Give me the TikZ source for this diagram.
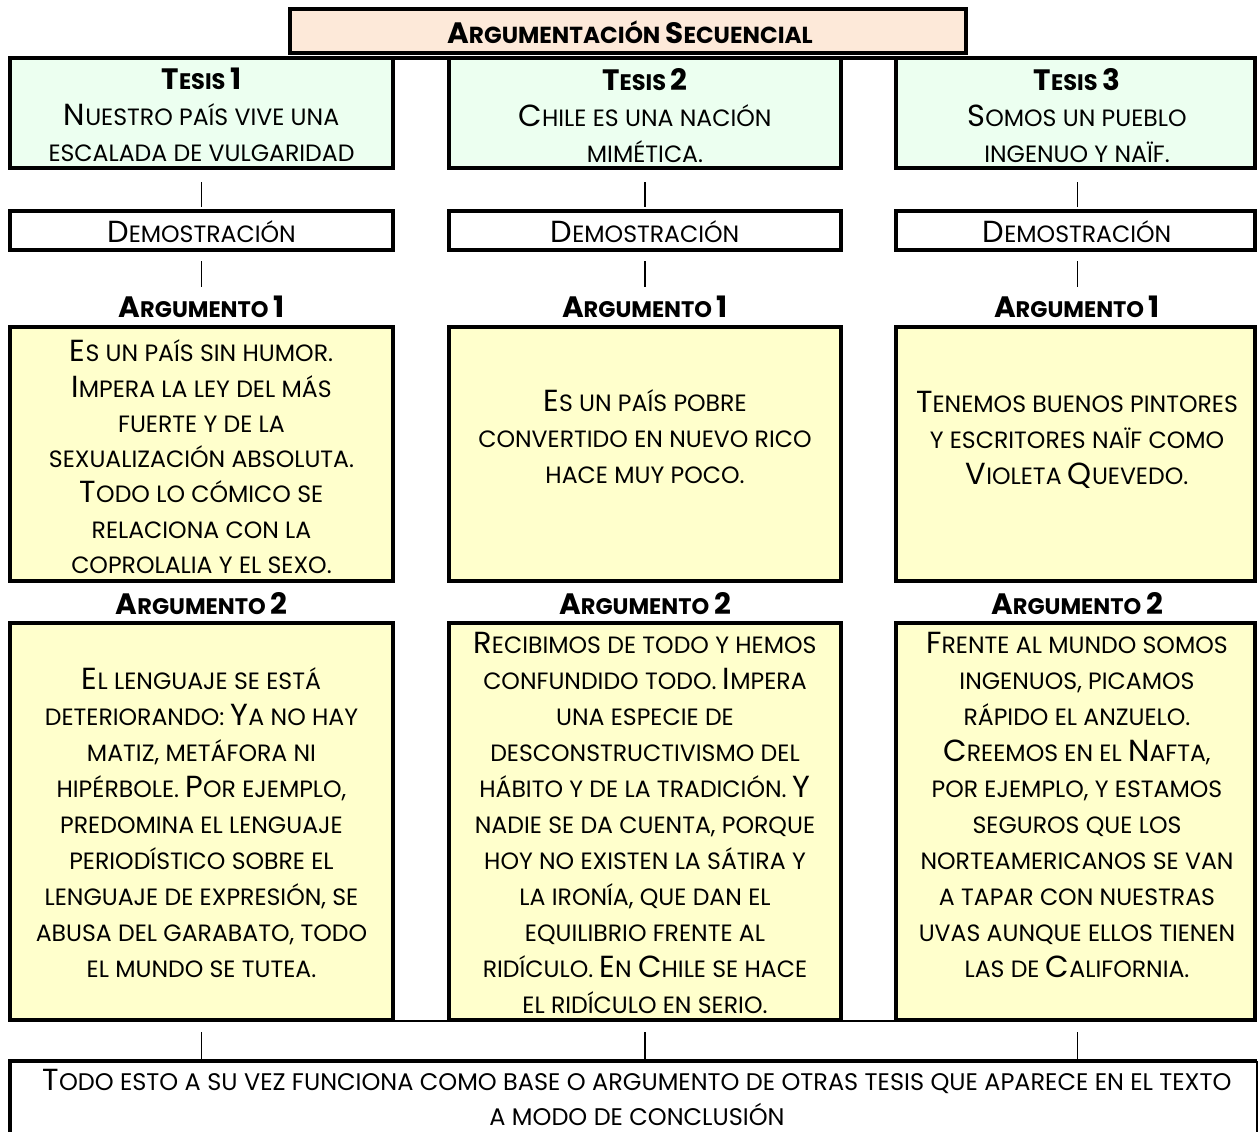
\documentclass[tikz,border=0pt]{standalone}
\usepackage{fontspec}
\setmainfont{Poppins}
\definecolor{peach}{RGB}{253,233,217}
\definecolor{mint}{RGB}{236,255,240}
\definecolor{cream}{RGB}{255,255,204}
\newcommand\smf{\fontsize{23.6}{36}\selectfont}
\newcommand\bsmf{\fontsize{22.5}{36}\selectfont\bfseries}
\DeclareRobustCommand\UC[1]{{\fontsize{30.5}{36}\selectfont #1}}
\DeclareRobustCommand\BUC[1]{{\fontsize{29.5}{36}\selectfont #1}}
\begin{document}
\begin{tikzpicture}[x=1pt,y=-1pt,
  box/.style={draw, line width=4pt, inner sep=0pt},
  txt/.style={align=center, inner sep=0pt, font=\smf, execute at begin node=\strut, execute at end node=\strut},
  lbl/.style={inner sep=0pt, font=\bsmf, execute at begin node=\strut},
  pipe/.style={line width=1.5pt}]
\useasboundingbox (0,0) rectangle (1259,1132);
\clip (0,0) rectangle (1259,1132);

% title
\node[box, fill=peach, minimum width=676pt, minimum height=43.5pt] (title) at (627.75,31.25) {};
\node[lbl, font=\fontsize{23.2}{36}\selectfont\bfseries] (titlet) at (630,36) {\BUC{A}RGUMENTACIÓN \BUC{S}ECUENCIAL};

% tesis boxes
\node[box, fill=mint, minimum width=383pt, minimum height=110pt] (t1) at (201.5,113) {};
\node[box, fill=mint, minimum width=392pt, minimum height=110pt] (t2) at (645,113) {};
\node[box, fill=mint, minimum width=359pt, minimum height=110pt] (t3) at (1075.5,113) {};
\draw[line width=4pt] ([yshift=-2pt]t1.north west) -- ([yshift=-2pt]t3.north east);

\node[txt] (t1t) at (201.5,120.5) {{\bsmf\BUC{T}ESIS \BUC{1}}\\ \UC{N}UESTRO PAÍS VIVE UNA\\ ESCALADA DE VULGARIDAD};
\node[txt] (t2t) at (645,120.5) {{\bsmf\BUC{T}ESIS \BUC{2}}\\ \UC{C}HILE ES UNA NACIÓN\\ MIMÉTICA.};
\node[txt] (t3t) at (1077,120.5) {{\bsmf\BUC{T}ESIS \BUC{3}}\\ \UC{S}OMOS UN PUEBLO\\ INGENUO Y NAÏF.};

% demostracion boxes
\node[box, minimum width=383pt, minimum height=39pt] (d1) at (201.5,230.5) {};
\node[box, minimum width=392pt, minimum height=39pt] (d2) at (645,230.5) {};
\node[box, minimum width=359pt, minimum height=39pt] (d3) at (1075.5,230.5) {};
\node[txt] (d1t) at (201.5,235.5) {\UC{D}EMOSTRACIÓN};
\node[txt] (d2t) at (645,235.5) {\UC{D}EMOSTRACIÓN};
\node[txt] (d3t) at (1077,235.5) {\UC{D}EMOSTRACIÓN};

% argumento 1
\node[lbl] (l11) at (201.5,310) {\BUC{A}RGUMENTO \BUC{1}};
\node[lbl] (l12) at (645,310) {\BUC{A}RGUMENTO \BUC{1}};
\node[lbl] (l13) at (1077,310) {\BUC{A}RGUMENTO \BUC{1}};
\node[box, fill=cream, minimum width=383pt, minimum height=254pt] (a1) at (201.5,454) {};
\node[box, fill=cream, minimum width=392pt, minimum height=254pt] (a2) at (645,454) {};
\node[box, fill=cream, minimum width=359pt, minimum height=254pt] (a3) at (1075.5,454) {};
\node[txt, font=\fontsize{23.6}{35.3}\selectfont] (a1t) at (201.5,462) {\UC{E}S UN PAÍS SIN HUMOR.\\ \UC{I}MPERA LA LEY DEL MÁS\\ FUERTE Y DE LA\\ SEXUALIZACIÓN ABSOLUTA.\\ \UC{T}ODO LO CÓMICO SE\\ RELACIONA CON LA\\ COPROLALIA Y EL SEXO.};
\node[txt] (a2t) at (645,442) {\UC{E}S UN PAÍS POBRE\\ CONVERTIDO EN NUEVO RICO\\ HACE MUY POCO.};
\node[txt] (a3t) at (1077,443) {\UC{T}ENEMOS BUENOS PINTORES\\ Y ESCRITORES NAÏF COMO\\ \UC{V}IOLETA \UC{Q}UEVEDO.};

% argumento 2
\node[lbl] (l21) at (201.5,607) {\BUC{A}RGUMENTO \BUC{2}};
\node[lbl] (l22) at (645,607) {\BUC{A}RGUMENTO \BUC{2}};
\node[lbl] (l23) at (1077,607) {\BUC{A}RGUMENTO \BUC{2}};
\node[box, fill=cream, minimum width=383pt, minimum height=397pt] (b1) at (201.5,821.5) {};
\node[box, fill=cream, minimum width=392pt, minimum height=397pt] (b2) at (645,821.5) {};
\node[box, fill=cream, minimum width=359pt, minimum height=397pt] (b3) at (1075.5,821.5) {};
\draw[line width=1.5pt] ([yshift=1pt]b1.south) -- ([yshift=1pt]b3.south);
\node[txt] (b1t) at (201.5,828) {\UC{E}L LENGUAJE SE ESTÁ\\ DETERIORANDO: \UC{Y}A NO HAY\\ MATIZ, METÁFORA NI\\ HIPÉRBOLE. \UC{P}OR EJEMPLO,\\ PREDOMINA EL LENGUAJE\\ PERIODÍSTICO SOBRE EL\\ LENGUAJE DE EXPRESIÓN, SE\\ ABUSA DEL GARABATO, TODO\\ EL MUNDO SE TUTEA.};
\node[txt] (b2t) at (645,828) {\UC{R}ECIBIMOS DE TODO Y HEMOS\\ CONFUNDIDO TODO. \UC{I}MPERA\\ UNA ESPECIE DE\\ DESCONSTRUCTIVISMO DEL\\ HÁBITO Y DE LA TRADICIÓN. \UC{Y}\\ NADIE SE DA CUENTA, PORQUE\\ HOY NO EXISTEN LA SÁTIRA Y\\ LA IRONÍA, QUE DAN EL\\ EQUILIBRIO FRENTE AL\\ RIDÍCULO. \UC{E}N \UC{C}HILE SE HACE\\ EL RIDÍCULO EN SERIO.};
\node[txt] (b3t) at (1077,810.5) {\UC{F}RENTE AL MUNDO SOMOS\\ INGENUOS, PICAMOS\\ RÁPIDO EL ANZUELO.\\ \UC{C}REEMOS EN EL \UC{N}AFTA,\\ POR EJEMPLO, Y ESTAMOS\\ SEGUROS QUE LOS\\ NORTEAMERICANOS SE VAN\\ A TAPAR CON NUESTRAS\\ UVAS AUNQUE ELLOS TIENEN\\ LAS DE \UC{C}ALIFORNIA.};

% conclusion
\node[inner sep=0pt, outer sep=0pt, minimum width=1247pt, minimum height=100pt, anchor=north west] (c) at (10,1061) {};
\draw[line width=4pt] (c.north east) -- (c.north west) -- (c.south west);
\draw[line width=1.2pt] (c.north east) -- (c.south east);
\node[align=center, inner sep=0pt, font=\fontsize{24}{35}\selectfont, execute at begin node=\strut] (ct) at (637,1103) {\UC{T}ODO ESTO A SU VEZ FUNCIONA COMO BASE O ARGUMENTO DE OTRAS TESIS QUE APARECE EN EL TEXTO\\ A MODO DE CONCLUSIÓN};

% pipes
\draw[pipe, shorten <=12pt, shorten >=2pt] (t1.south) -- (d1.north);
\draw[pipe, shorten <=12pt, shorten >=2pt] (t2.south) -- (d2.north);
\draw[pipe, shorten <=12pt, shorten >=2pt] ([xshift=2pt]t3.south) -- ([xshift=2pt]d3.north);
\draw[pipe, shorten <=9pt, shorten >=38pt] (d1.south) -- (a1.north);
\draw[pipe, shorten <=9pt, shorten >=38pt] (d2.south) -- (a2.north);
\draw[pipe, shorten <=9pt, shorten >=38pt] ([xshift=2pt]d3.south) -- ([xshift=2pt]a3.north);
\draw[pipe, shorten <=10pt, shorten >=1pt] (b1.south) -- (b1.south |- c.north);
\draw[pipe, shorten <=10pt, shorten >=1pt] (b2.south) -- (b2.south |- c.north);
\draw[pipe, shorten <=10pt, shorten >=1pt] ([xshift=2pt]b3.south) -- ([xshift=2pt]b3.south |- c.north);
\end{tikzpicture}
\end{document}
